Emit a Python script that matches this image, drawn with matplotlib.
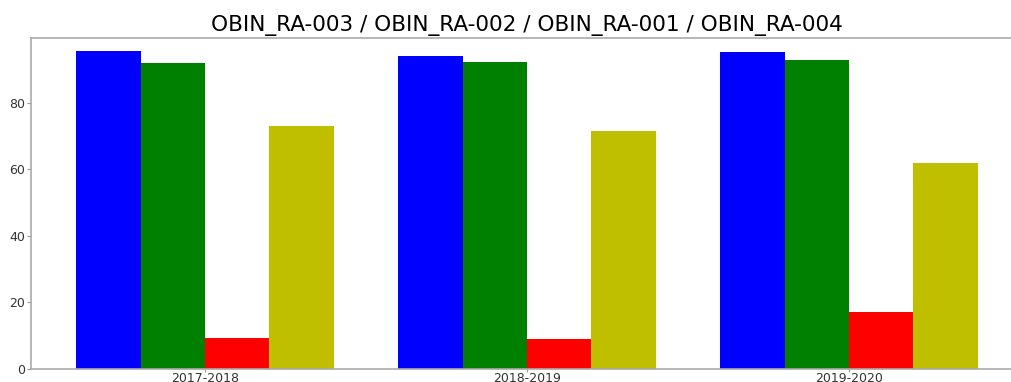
import matplotlib
matplotlib.use("Agg")
import matplotlib.pyplot as plt
import numpy as np

categories = ["2017-2018", "2018-2019", "2019-2020"]
series_names = ["OBIN_RA-003", "OBIN_RA-002", "OBIN_RA-001", "OBIN_RA-004"]
obin_ra_003 = [95.6, 94.1, 95.3]
obin_ra_002 = [92.1, 92.4, 92.8]
obin_ra_001 = [9.3, 8.9, 17.1]
obin_ra_004 = [73.1, 71.5, 61.8]
colors = ["b", "g", "r", "y"]

W, H = 1012, 382
fig = plt.figure(figsize=(W / 100, H / 100), dpi=100)
left, right, top, bottom = 31, 1023, 37.7, 369
ax = fig.add_axes([left / W, 1 - bottom / H, (right - left) / W, (bottom - top) / H])

x = np.arange(len(categories))
width = 0.2
all_series = [obin_ra_003, obin_ra_002, obin_ra_001, obin_ra_004]
for i, (vals, c) in enumerate(zip(all_series, colors)):
    ax.bar(x + (i - 1.5) * width, vals, width, color=c)

ax.set_xlim(-0.54, 2.54)
ax.set_ylim(0, 99.6)
ax.set_xticks(x)
ax.set_xticklabels(categories)
ax.set_yticks([0, 20, 40, 60, 80])
ax.tick_params(axis="both", labelsize=9, colors="#999999", labelcolor="#333333", length=3, pad=1)
ax.tick_params(axis="x", length=2, pad=0)
for s in ax.spines.values():
    s.set_color("#aaaaaa")
    s.set_linewidth(1.2)
ax.spines["right"].set_visible(False)
ax.set_title(" / ".join(series_names), fontsize=15.6, pad=5)

fig.savefig("out.png", dpi=100)
